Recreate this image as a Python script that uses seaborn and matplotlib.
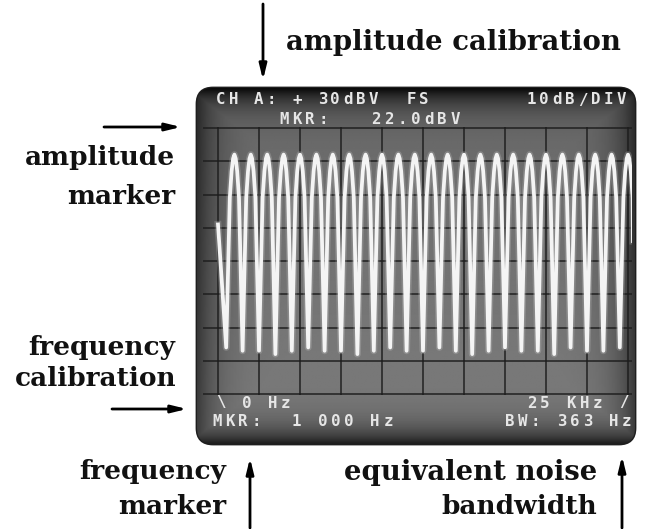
import numpy as np
import pandas as pd
import matplotlib
matplotlib.use("Agg")
import matplotlib.pyplot as plt
import seaborn as sns
from matplotlib.patches import FancyBboxPatch

# ---------------- data ----------------
peak_khz = [1, 2, 3, 4, 5, 6, 7, 8, 9, 10, 11, 12, 13,
            14, 15, 16, 17, 18, 19, 20, 21, 22, 23, 24, 25]
peak_dbv = [22.0, 22.0, 22.0, 22.0, 22.0, 22.0, 22.0, 22.0, 22.0, 22.0, 22.0, 22.0, 22.0,
            22.0, 22.0, 22.0, 22.0, 22.0, 22.0, 22.0, 22.0, 22.0, 22.0, 22.0, 22.0]
trough_khz = [0.5, 1.5, 2.5, 3.5, 4.5, 5.5, 6.5, 7.5, 8.5, 9.5, 10.5, 11.5,
              12.5, 13.5, 14.5, 15.5, 16.5, 17.5, 18.5, 19.5, 20.5, 21.5,
              22.5, 23.5, 24.5]
trough_dbv = [-36, -37, -37, -38, -37, -36, -37, -37, -38, -37, -36, -37,
              -37, -36, -37, -38, -37, -36, -37, -37, -38, -36, -37, -37, -36]
# rounded lobe tops: offset from each peak (kHz) and drop below the peak (dB)
lobe_offset_khz = [-0.28, -0.17, -0.08, 0.08, 0.17, 0.28]
lobe_drop_db = [13.0, 5.0, 1.2, 1.2, 5.0, 13.0]
edge_khz = [0.0, 25.3]
edge_dbv = [1.0, -4.0]

freq_grid_khz = [0, 2.5, 5, 7.5, 10, 12.5, 15, 17.5, 20, 22.5, 25]
level_grid_dbv = [-50, -40, -30, -20, -10, 0, 10, 20, 30]

screen_header = ["CH A: + 30dBV  FS", "MKR:   22.0dBV", "10dB/DIV"]
screen_footer = ["\\ 0 Hz", "MKR:  1 000 Hz", "25 KHz /", "BW: 363 Hz"]
labels_left = ["amplitude", "marker", "frequency", "calibration"]
labels_top = ["amplitude calibration"]
labels_bottom = ["frequency", "marker", "equivalent noise", "bandwidth"]

lobe_rows = [(pk + off, pv - dr)
             for pk, pv in zip(peak_khz, peak_dbv)
             for off, dr in zip(lobe_offset_khz, lobe_drop_db)]
trace = pd.DataFrame({
    "khz": peak_khz + trough_khz + edge_khz + [r[0] for r in lobe_rows],
    "dbv": peak_dbv + trough_dbv + edge_dbv + [r[1] for r in lobe_rows],
}).sort_values("khz")

# ---------------- figure ----------------
W, H = 646, 529
fig = plt.figure(figsize=(W / 100, H / 100), dpi=100)
fig.patch.set_facecolor("white")

bg = fig.add_axes([0, 0, 1, 1])
bg.set_xlim(0, W)
bg.set_ylim(H, 0)
bg.axis("off")

# screen with vignette
sx0, sy0, sw, sh = 197, 88, 438, 356
screen = FancyBboxPatch((sx0, sy0), sw, sh,
                        boxstyle="round,pad=0,rounding_size=16",
                        facecolor="#4a4a4a", edgecolor="#1e1e1e", lw=2)
bg.add_patch(screen)
u, v = np.meshgrid(np.linspace(-1, 1, 300), np.linspace(-1, 1, 250))
d = np.maximum(np.abs(u), np.abs(v) * 1.04)
val = 0.45 - 0.25 * d ** 10 + 0.04 * v
img = bg.imshow(val, cmap="gray", vmin=0, vmax=1,
                extent=(sx0, sx0 + sw, sy0 + sh, sy0), aspect="auto",
                interpolation="bilinear", zorder=1)
img.set_clip_path(screen)

# graticule + trace axes
px_per_khz = 16.4
px_per_db = 3.325
gx0, gx1 = 203, 632
gy0, gy1 = 127, 395
ax = fig.add_axes([gx0 / W, 1 - gy1 / H, (gx1 - gx0) / W, (gy1 - gy0) / H])
ax.set_zorder(2)
ax.patch.set_alpha(0)
x_left = -(218 - gx0) / px_per_khz
ax.set_xlim(x_left, x_left + (gx1 - gx0) / px_per_khz)
ax.set_ylim(30 - (gy1 - 128) / px_per_db, 30 + (128 - gy0) / px_per_db)
ax.set_xticks(freq_grid_khz)
ax.set_yticks(level_grid_dbv)
ax.grid(True, color="#1c1c1c", lw=1.3, alpha=0.8)
ax.tick_params(length=0, labelbottom=False, labelleft=False)
for s in ax.spines.values():
    s.set_visible(False)

sns.lineplot(data=trace, x="khz", y="dbv", ax=ax, sort=True, estimator=None,
             color="#d0d0d0", lw=5, alpha=0.25, solid_joinstyle="round")
sns.lineplot(data=trace, x="khz", y="dbv", ax=ax, sort=True, estimator=None,
             color="#f4f4f4", lw=2.7, solid_joinstyle="round")
ax.set_xlabel("")
ax.set_ylabel("")

# screen text (dot-matrix style, fixed pitch)
def mono(x, y, s, pitch=13.0):
    for i, ch in enumerate(s):
        bg.text(x + i * pitch, y, ch, family="DejaVu Sans Mono", weight="bold",
                size=11.3, color="#e6e6e6", ha="left", va="center", zorder=5)

mono(216, 100, screen_header[0], pitch=12.7)
mono(279, 119, screen_header[1], pitch=13.2)
mono(526, 100, screen_header[2], pitch=13.0)
mono(216, 403, screen_footer[0], pitch=13.0)
mono(212, 422, screen_footer[1], pitch=13.2)
mono(527, 403, screen_footer[2], pitch=13.2)
mono(505, 422, screen_footer[3], pitch=13.0)

# annotation labels
lab = dict(family="DejaVu Serif", weight="bold", color="#111111")
bg.text(286, 42, labels_top[0], ha="left", va="center", size=19.8, **lab)
bg.text(175, 158, labels_left[0], ha="right", va="center", size=19, **lab)
bg.text(175, 196, labels_left[1], ha="right", va="center", size=19, **lab)
bg.text(175, 347, labels_left[2], ha="right", va="center", size=19, **lab)
bg.text(177, 379, labels_left[3], ha="right", va="center", size=19, **lab)
bg.text(226, 472, labels_bottom[0], ha="right", va="center", size=19, **lab)
bg.text(226, 506, labels_bottom[1], ha="right", va="center", size=19, **lab)
bg.text(597, 472, labels_bottom[2], ha="right", va="center", size=19.8, **lab)
bg.text(597, 506, labels_bottom[3], ha="right", va="center", size=19, **lab)

arrow = dict(arrowstyle="-|>,head_length=0.9,head_width=0.22", lw=2,
             color="black", shrinkA=0, shrinkB=0)
bg.annotate("", xy=(263, 80), xytext=(263, 4), arrowprops=arrow)
bg.annotate("", xy=(181, 127), xytext=(104, 127), arrowprops=arrow)
bg.annotate("", xy=(187, 409), xytext=(112, 409), arrowprops=arrow)
bg.annotate("", xy=(250, 458), xytext=(250, 528), arrowprops=arrow)
bg.annotate("", xy=(622, 456), xytext=(622, 528), arrowprops=arrow)

fig.savefig("out.png", dpi=100, facecolor="white")
